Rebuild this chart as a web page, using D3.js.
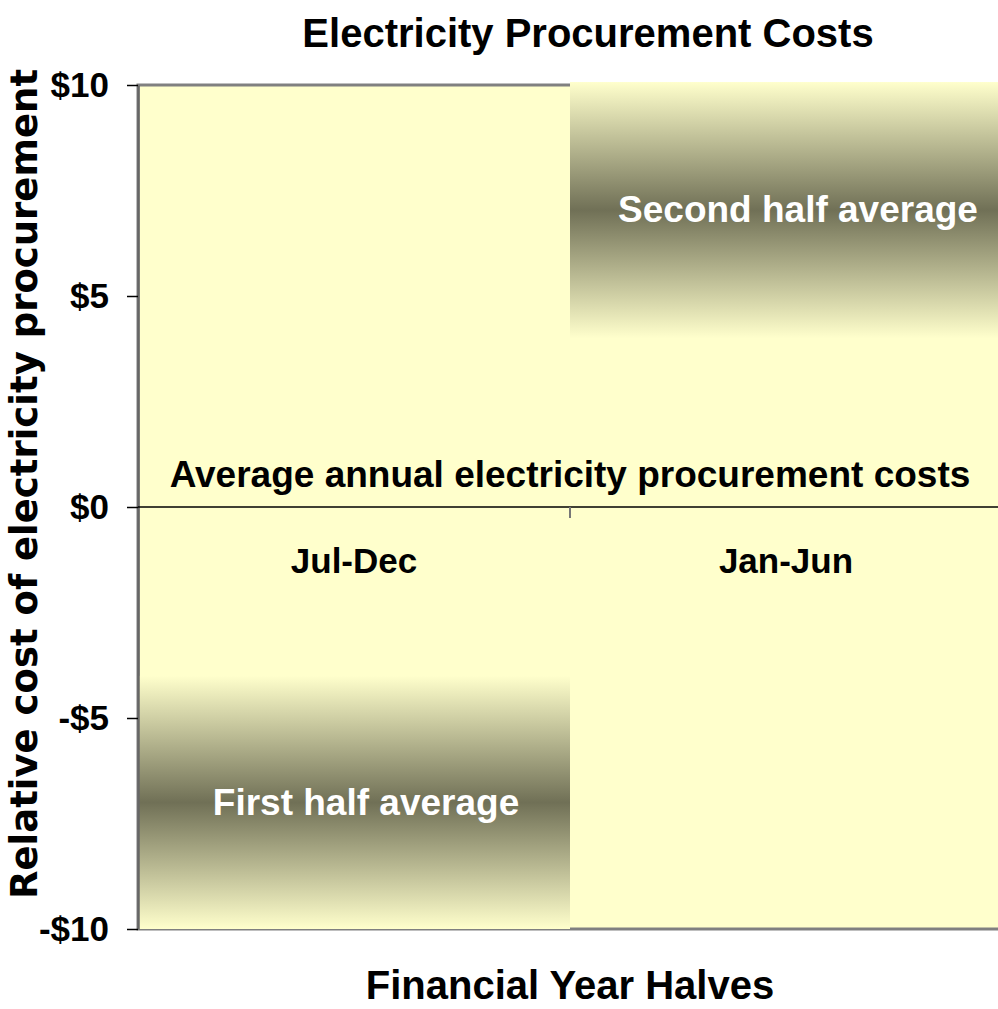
<!DOCTYPE html>
<html>
<head>
    <title>Electricity Procurement Costs</title>
    <script src="https://d3js.org/d3.v7.min.js"></script>
    <style>
        body { margin: 0; background: #fff; }
        text { font-family: "Liberation Sans", Arial, sans-serif; font-weight: bold; }
        .ytitle { font-family: "DejaVu Sans", Verdana, sans-serif; }
    </style>
</head>
<body>
<script>
    // chart values
    const halves = ["Jul-Dec", "Jan-Jun"];
    const barLow = [-10, 4];
    const barHigh = [-4, 10.07];
    const barLabels = ["First half average", "Second half average"];
    const yTicks = [-10, -5, 0, 5, 10];
    const title = "Electricity Procurement Costs";
    const xTitle = "Financial Year Halves";
    const yTitle = "Relative cost of electricity procurement";
    const zeroLabel = "Average annual electricity procurement costs";

    const width = 998, height = 1009;
    const plotLeft = 138, plotRight = 1002, plotTop = 85, plotBottom = 929;
    const labelShift = 12; // bar labels sit a bit right of centre

    const svg = d3.select("body").append("svg")
        .attr("width", width)
        .attr("height", height);

    const x = d3.scaleBand().domain(halves).range([plotLeft, plotRight]).padding(0);
    const y = d3.scaleLinear().domain([-10, 10]).range([plotBottom, plotTop]);

    // gradient: light edges, dark middle
    const grad = svg.append("defs").append("linearGradient")
        .attr("id", "barGrad")
        .attr("x1", 0).attr("y1", 0).attr("x2", 0).attr("y2", 1);
    grad.append("stop").attr("offset", "0%").attr("stop-color", "#ffffcc");
    grad.append("stop").attr("offset", "50%").attr("stop-color", "#707056");
    grad.append("stop").attr("offset", "100%").attr("stop-color", "#ffffcc");

    // plot area
    svg.append("rect")
        .attr("x", plotLeft).attr("y", plotTop)
        .attr("width", plotRight - plotLeft).attr("height", plotBottom - plotTop)
        .attr("fill", "#ffffcc")
        .attr("stroke", "#808080")
        .attr("stroke-width", 3);

    // bars
    svg.selectAll(".bar")
        .data(halves)
        .join("rect")
        .attr("class", "bar")
        .attr("x", d => x(d))
        .attr("width", x.bandwidth())
        .attr("y", (d, i) => y(barHigh[i]))
        .attr("height", (d, i) => y(barLow[i]) - y(barHigh[i]))
        .attr("fill", "url(#barGrad)");

    // bar labels
    svg.selectAll(".barLabel")
        .data(halves)
        .join("text")
        .attr("class", "barLabel")
        .attr("x", d => x(d) + x.bandwidth() / 2 + labelShift)
        .attr("y", (d, i) => y((barLow[i] + barHigh[i]) / 2))
        .attr("dy", "0.33em")
        .attr("text-anchor", "middle")
        .attr("fill", "#fff")
        .style("font-size", "37px")
        .text((d, i) => barLabels[i]);

    // y axis
    const yAxis = svg.append("g")
        .attr("transform", `translate(${plotLeft},0)`)
        .call(d3.axisLeft(y)
            .tickValues(yTicks)
            .tickSize(11)
            .tickSizeOuter(0)
            .tickPadding(18)
            .tickFormat(v => (v < 0 ? "-$" : "$") + Math.abs(v)));
    yAxis.select(".domain").attr("stroke", "#666").attr("stroke-width", 2.5);
    yAxis.selectAll(".tick line").attr("stroke", "#000").attr("stroke-width", 1.5);
    yAxis.selectAll(".tick text")
        .attr("fill", "#000")
        .style("font-size", "35px")
        .style("font-family", "'Liberation Sans', Arial, sans-serif");

    // zero line with category tick
    svg.append("line")
        .attr("x1", plotLeft).attr("x2", plotRight)
        .attr("y1", y(0)).attr("y2", y(0))
        .attr("stroke", "#000").attr("stroke-width", 1.5);
    svg.append("line")
        .attr("x1", x(halves[1])).attr("x2", x(halves[1]))
        .attr("y1", y(0)).attr("y2", y(0) + 11)
        .attr("stroke", "#777").attr("stroke-width", 2);

    // category labels
    svg.selectAll(".cat")
        .data(halves)
        .join("text")
        .attr("class", "cat")
        .attr("x", d => x(d) + x.bandwidth() / 2)
        .attr("y", y(0) + 66)
        .attr("text-anchor", "middle")
        .style("font-size", "35px")
        .text(d => d);

    svg.append("text")
        .attr("x", plotLeft + (plotRight - plotLeft) / 2)
        .attr("y", y(0) - 20)
        .attr("text-anchor", "middle")
        .style("font-size", "37px")
        .text(zeroLabel);

    // titles
    svg.append("text")
        .attr("x", 588)
        .attr("y", 47)
        .attr("text-anchor", "middle")
        .style("font-size", "40px")
        .text(title);

    svg.append("text")
        .attr("x", plotLeft + (plotRight - plotLeft) / 2)
        .attr("y", 999)
        .attr("text-anchor", "middle")
        .style("font-size", "40px")
        .text(xTitle);

    svg.append("text")
        .attr("class", "ytitle")
        .attr("transform", "translate(37,484) rotate(-90)")
        .attr("text-anchor", "middle")
        .style("font-size", "37px")
        .text(yTitle);
</script>
</body>
</html>
